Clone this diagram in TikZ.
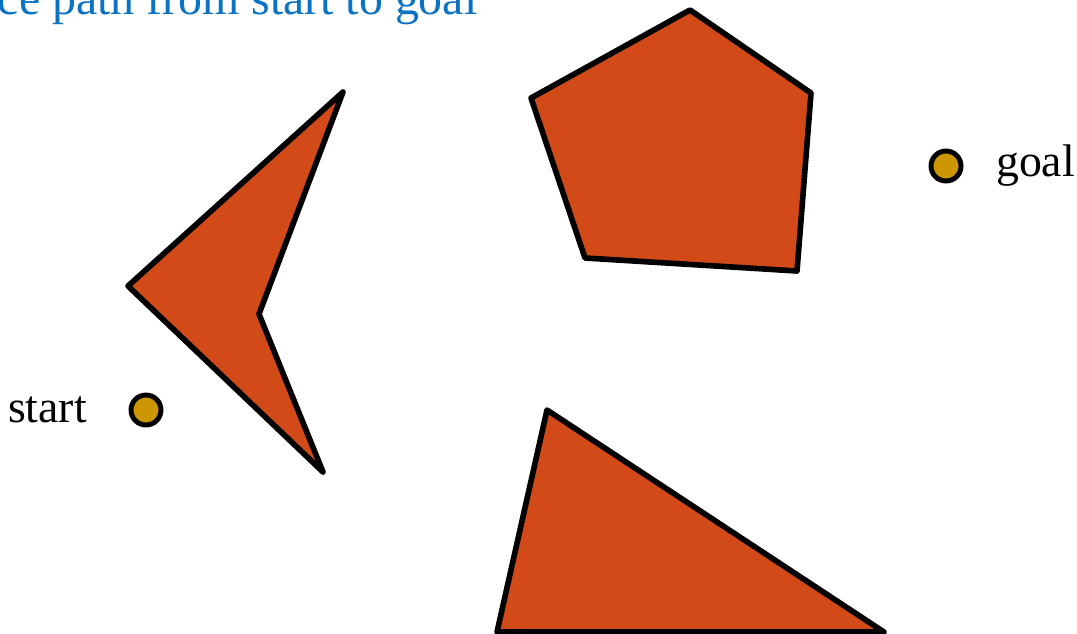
\documentclass[tikz,border=0pt]{standalone}
\usepackage{fontspec}
\setmainfont{Liberation Serif}
\usetikzlibrary{positioning}
\definecolor{obstacle}{RGB}{210,74,24}
\definecolor{point}{RGB}{204,150,0}
\definecolor{titleblue}{RGB}{11,114,196}
\begin{document}
\begin{tikzpicture}[x=0.01cm,y=-0.01cm,
  obst/.style={fill=obstacle,draw=black,line width=1.6pt,line join=round},
  pt/.style={circle,fill=point,draw=black,line width=1.4pt,minimum size=0.30cm,inner sep=0pt},
  lbl/.style={inner sep=0pt,font=\fontsize{13}{15}\selectfont}]
\useasboundingbox (0,0) rectangle (1077,633);
\node[lbl,anchor=base east,text=titleblue,font=\fontsize{13.6}{16}\selectfont] (title) at (478,14) {ce path from start to goal};
% obstacles
\draw[obst] (343,92) -- (128,286) -- (323,472) -- (259,314) -- cycle;
\draw[obst] (690,10) -- (811,93) -- (797,271) -- (585,258) -- (531,98) -- cycle;
\draw[obst] (547,410) -- (884,632) -- (497,632) -- cycle;
% start and goal
\node[pt] (start) at (146,410) {};
\node[pt] (goal) at (946,166) {};
\node[lbl,left=0.41cm of start] (startlbl) {start};
\node[lbl,right=0.32cm of goal] (goallbl) {goal};
\end{tikzpicture}
\end{document}
